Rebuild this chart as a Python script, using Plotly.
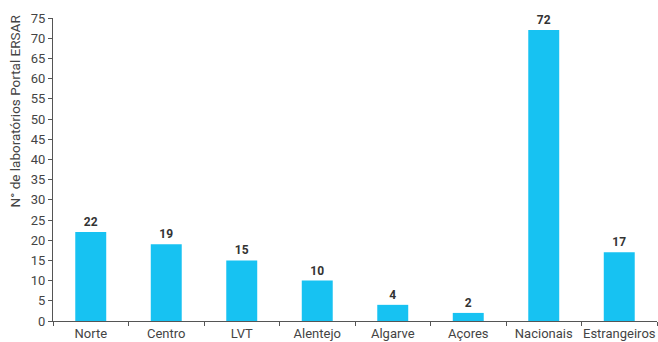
import plotly.graph_objects as go

categories = ["Norte", "Centro", "LVT", "Alentejo", "Algarve", "Açores", "Nacionais", "Estrangeiros"]
values = [22, 19, 15, 10, 4, 2, 72, 17]
y_title = "N° de laboratórios Portal ERSAR"

fig = go.Figure(go.Bar(
    x=categories, y=values,
    marker=dict(color="#17C2F2", line=dict(width=0)),
    text=["<b>%d</b>" % v for v in values], textposition="outside",
    textfont=dict(size=12, color="#333333", family="Roboto"),
    cliponaxis=False,
))
fig.update_layout(
    width=658, height=342,
    margin=dict(l=53, r=1, t=18, b=21),
    paper_bgcolor="white", plot_bgcolor="white",
    bargap=0.59,
    showlegend=False,
    font=dict(family="Roboto", size=12, color="#555555"),
    annotations=[dict(
        text=y_title, textangle=-90, xref="paper", yref="paper",
        x=-0.063, y=1.02, xanchor="center", yanchor="top", showarrow=False,
        font=dict(size=13.5, color="#444444", family="Roboto"),
    )],
)
fig.update_xaxes(
    showline=True, linecolor="#555555", linewidth=1,
    ticks="outside", tickson="boundaries", ticklen=4, tickcolor="#555555",
    tickfont=dict(size=13, color="#444444"), tickangle=0, automargin=False,
    showgrid=False,
)
fig.update_yaxes(
    range=[0, 75], dtick=5, showline=True, linecolor="#555555", linewidth=1,
    ticks="outside", ticklen=4, tickcolor="#555555",
    tickfont=dict(size=13, color="#444444"), showgrid=False, zeroline=False,
    automargin=False,
)
fig.write_html("out.html")
